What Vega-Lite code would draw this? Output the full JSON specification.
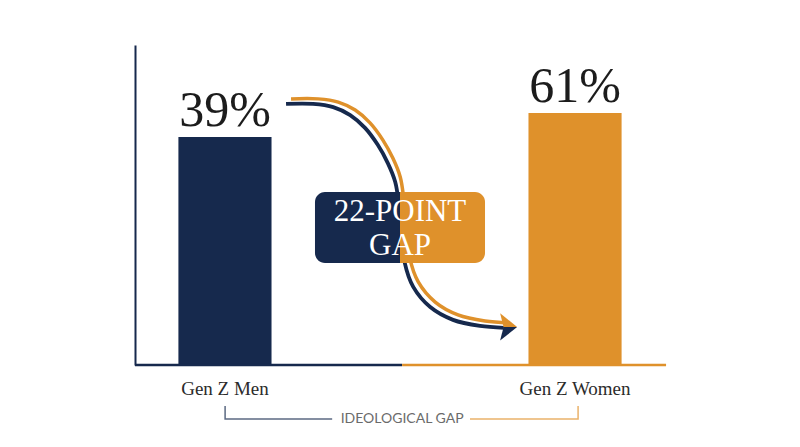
{
  "$schema": "https://vega.github.io/schema/vega-lite/v6.json",
  "width": 530,
  "height": 320,
  "autosize": "none",
  "padding": {"left": 135, "top": 45, "right": 135, "bottom": 82},
  "background": "white",
  "config": {"view": {"stroke": null}},
  "datasets": {
    "bars": [
      {"group": "Gen Z Men", "share": 0.39},
      {"group": "Gen Z Women", "share": 0.61}
    ],
    "baseline": [
      {"group": "Gen Z Men", "x": 0, "x2": 50.4, "y": 0},
      {"group": "Gen Z Women", "x": 50.4, "x2": 100.2, "y": 0}
    ],
    "arrow": [
      {"order": 1, "x": 28.5, "y": 81.6},
      {"order": 2, "x": 33.6, "y": 81.6},
      {"order": 3, "x": 37.4, "y": 80.6},
      {"order": 4, "x": 40.6, "y": 78.1},
      {"order": 5, "x": 43.4, "y": 74.1},
      {"order": 6, "x": 45.8, "y": 68.8},
      {"order": 7, "x": 47.7, "y": 63.1},
      {"order": 8, "x": 49.1, "y": 57.2},
      {"order": 9, "x": 49.8, "y": 50.0},
      {"order": 10, "x": 50.4, "y": 40.6},
      {"order": 11, "x": 50.9, "y": 31.9},
      {"order": 12, "x": 52.5, "y": 24.4},
      {"order": 13, "x": 55.7, "y": 18.1},
      {"order": 14, "x": 60.0, "y": 14.1},
      {"order": 15, "x": 65.1, "y": 12.2},
      {"order": 16, "x": 69.6, "y": 11.6}
    ],
    "arrowhead": [{"x": 70.5, "y": 11.9}],
    "box": [
      {"group": "Gen Z Men", "x": 33.96, "x2": 50.0, "y": 54.06, "y2": 31.88},
      {"group": "Gen Z Women", "x": 50.0, "x2": 66.04, "y": 54.06, "y2": 31.88}
    ],
    "boxText": [
      {"line": "22-POINT", "x": 50.0, "y": 44.9},
      {"line": "GAP", "x": 50.0, "y": 34.4}
    ],
    "bracket": [
      {"group": "Gen Z Men", "order": 1, "x": 17.0, "y": -12.8},
      {"group": "Gen Z Men", "order": 2, "x": 17.0, "y": -16.9},
      {"group": "Gen Z Men", "order": 3, "x": 37.2, "y": -16.9},
      {"group": "Gen Z Women", "order": 1, "x": 63.2, "y": -16.9},
      {"group": "Gen Z Women", "order": 2, "x": 83.6, "y": -16.9},
      {"group": "Gen Z Women", "order": 3, "x": 83.6, "y": -12.8}
    ],
    "bracketLabel": [{"text": "IDEOLOGICAL GAP", "x": 50.4, "y": -16.9}]
  },
  "layer": [
    {
      "data": {"name": "bars"},
      "encoding": {
        "x": {
          "field": "group",
          "type": "nominal",
          "sort": null,
          "scale": {"paddingInner": 0.734, "paddingOuter": 0.124},
          "axis": {
            "title": null,
            "domain": false,
            "ticks": false,
            "labelAngle": 0,
            "labelFont": "Liberation Serif",
            "labelFontSize": 19,
            "labelColor": "#2b2b2b",
            "labelPadding": 14
          }
        },
        "y": {
          "field": "share",
          "type": "quantitative",
          "scale": {"domain": [-1.7, 1.2333], "zero": false, "nice": false},
          "axis": {
            "title": null,
            "labels": false,
            "ticks": false,
            "grid": false,
            "domainColor": "#16294d",
            "domainWidth": 2
          }
        }
      },
      "layer": [
        {
          "mark": {"type": "bar", "width": {"band": 1}},
          "encoding": {
            "y2": {"datum": -1.7},
            "color": {
              "field": "group",
              "type": "nominal",
              "scale": {"domain": ["Gen Z Men", "Gen Z Women"], "range": ["#16294d", "#df912b"]},
              "legend": null
            }
          }
        },
        {
          "mark": {
            "type": "text",
            "dy": -11,
            "baseline": "alphabetic",
            "font": "Liberation Serif",
            "fontSize": 50,
            "color": "#1c1c1c"
          },
          "encoding": {"text": {"field": "share", "type": "quantitative", "format": ".0%"}}
        }
      ]
    },
    {
      "encoding": {
        "x": {"field": "x", "type": "quantitative", "scale": {"domain": [0, 100], "nice": false, "zero": false}, "axis": null},
        "y": {"field": "y", "type": "quantitative", "scale": {"domain": [0, 100], "nice": false, "zero": false}, "axis": null}
      },
      "layer": [
        {
          "data": {"name": "baseline"},
          "mark": {"type": "rule", "strokeWidth": 2.5},
          "encoding": {
            "x2": {"field": "x2"},
            "color": {"field": "group", "type": "nominal", "legend": null}
          }
        },
        {
          "data": {"name": "arrow"},
          "mark": {"type": "line", "color": "#df912b", "strokeWidth": 3.5, "interpolate": "catmull-rom", "xOffset": 5, "yOffset": -5},
          "encoding": {"order": {"field": "order"}}
        },
        {
          "data": {"name": "arrow"},
          "mark": {"type": "line", "color": "#16294d", "strokeWidth": 3.8, "interpolate": "catmull-rom"},
          "encoding": {"order": {"field": "order"}}
        },
        {
          "data": {"name": "arrowhead"},
          "mark": {"type": "point", "filled": true, "opacity": 1, "size": 289, "color": "#df912b", "shape": "M 1 0 L -1 -1.6 L -0.6 0 Z"},
          "encoding": {}
        },
        {
          "data": {"name": "arrowhead"},
          "mark": {"type": "point", "filled": true, "opacity": 1, "size": 289, "color": "#16294d", "shape": "M 1 0 L -0.6 0 L -1 1.6 Z"},
          "encoding": {}
        },
        {
          "data": {"name": "box"},
          "transform": [{"filter": "datum.group == 'Gen Z Men'"}],
          "mark": {"type": "rect", "color": "#16294d", "cornerRadiusTopLeft": 10, "cornerRadiusBottomLeft": 10},
          "encoding": {"x2": {"field": "x2"}, "y2": {"field": "y2"}}
        },
        {
          "data": {"name": "box"},
          "transform": [{"filter": "datum.group == 'Gen Z Women'"}],
          "mark": {"type": "rect", "color": "#df912b", "cornerRadiusTopRight": 10, "cornerRadiusBottomRight": 10},
          "encoding": {"x2": {"field": "x2"}, "y2": {"field": "y2"}}
        },
        {
          "data": {"name": "boxText"},
          "mark": {"type": "text", "align": "center", "baseline": "alphabetic", "font": "Liberation Serif", "fontSize": 31, "color": "white"},
          "encoding": {"text": {"field": "line"}}
        },
        {
          "data": {"name": "bracket"},
          "mark": {"type": "line", "strokeWidth": 1.5, "opacity": 0.7},
          "encoding": {
            "order": {"field": "order"},
            "color": {"field": "group", "type": "nominal", "legend": null}
          }
        },
        {
          "data": {"name": "bracketLabel"},
          "mark": {"type": "text", "align": "center", "baseline": "middle", "font": "Lato", "fontSize": 14, "color": "#6b6b6b"},
          "encoding": {"text": {"field": "text"}}
        }
      ]
    }
  ],
  "resolve": {"scale": {"x": "independent", "y": "independent"}}
}
